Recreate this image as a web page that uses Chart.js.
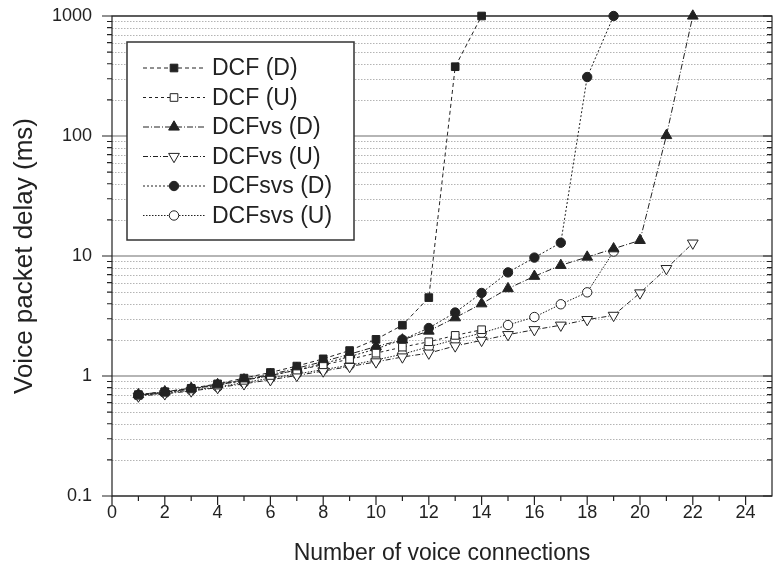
<!DOCTYPE html>
<html>
<head>
<meta charset="utf-8">
<script src="https://cdn.jsdelivr.net/npm/chart.js@4.4.1/dist/chart.umd.min.js"></script>
<style>
  html, body { margin: 0; padding: 0; background: #ffffff; }
  #wrap { width: 780px; height: 575px; }
</style>
</head>
<body>
<div id="wrap"><canvas id="chart" width="780" height="575"></canvas></div>
<script>
// Number of voice connections (x values)
const connections = [1, 2, 3, 4, 5, 6, 7, 8, 9, 10, 11, 12, 13, 14, 15, 16, 17, 18, 19, 20, 21, 22];

// Voice packet delay (ms) per scheme, downlink (D) and uplink (U)
const dcfDown    = [0.70, 0.74, 0.79, 0.86, 0.96, 1.07, 1.21, 1.39, 1.63, 2.02, 2.65, 4.5, 378, 1000];
const dcfUp      = [0.69, 0.73, 0.78, 0.84, 0.92, 1.01, 1.12, 1.24, 1.38, 1.55, 1.74, 1.93, 2.18, 2.43];
const dcfvsDown  = [0.70, 0.74, 0.79, 0.85, 0.93, 1.03, 1.16, 1.32, 1.52, 1.76, 2.0, 2.37, 3.06, 4.0, 5.35, 6.78, 8.36, 9.8, 11.5, 13.5, 101, 1000];
const dcfvsUp    = [0.68, 0.71, 0.75, 0.80, 0.86, 0.93, 1.01, 1.10, 1.20, 1.31, 1.44, 1.55, 1.78, 1.98, 2.21, 2.43, 2.65, 2.95, 3.2, 4.92, 7.85, 12.8];
const dcfsvsDown = [0.69, 0.73, 0.78, 0.84, 0.92, 1.01, 1.12, 1.27, 1.45, 1.68, 2.01, 2.51, 3.38, 4.92, 7.3, 9.7, 12.9, 310, 1000];
const dcfsvsUp   = [0.69, 0.72, 0.76, 0.81, 0.88, 0.96, 1.04, 1.13, 1.23, 1.36, 1.52, 1.75, 2.01, 2.28, 2.66, 3.1, 3.96, 4.98, 10.9];

const seriesNames = ['DCF (D)', 'DCF (U)', 'DCFvs (D)', 'DCFvs (U)', 'DCFsvs (D)', 'DCFsvs (U)'];

// Axis ticks
const xTickValues = [0, 2, 4, 6, 8, 10, 12, 14, 16, 18, 20, 22, 24];
const yTickValues = [0.1, 1, 10, 100, 1000];
const yTickLabels = ['0.1', '1', '10', '100', '1000'];

const FONT = "'Liberation Sans', Arial, sans-serif";
const INK = '#222222';

function points(values) {
  return values.map((v, i) => ({ x: connections[i], y: v }));
}

function series(label, values, style) {
  return Object.assign({
    label,
    data: points(values),
    borderColor: INK,
    borderWidth: 1,
    pointBorderColor: INK,
    pointBorderWidth: 1,
    pointHoverRadius: 5,
    fill: false,
    tension: 0,
    clip: false
  }, style);
}

const datasets = [
  series(seriesNames[0], dcfDown,    { borderDash: [4, 3],       pointStyle: 'rect',     pointRadius: 5.4, pointBackgroundColor: INK }),
  series(seriesNames[1], dcfUp,      { borderDash: [3, 3],       pointStyle: 'rect',     pointRadius: 5.4, pointBackgroundColor: '#ffffff' }),
  series(seriesNames[2], dcfvsDown,  { borderDash: [6, 2, 1, 2], pointStyle: 'triangle', pointRadius: 6.2, pointBackgroundColor: INK }),
  series(seriesNames[3], dcfvsUp,    { borderDash: [5, 2, 1, 2], pointStyle: 'triangle', pointRadius: 6.2, pointRotation: 180, pointBackgroundColor: '#ffffff' }),
  series(seriesNames[4], dcfsvsDown, { borderDash: [2, 2],       pointStyle: 'circle',   pointRadius: 4.7, pointBackgroundColor: INK }),
  series(seriesNames[5], dcfsvsUp,   { borderDash: [1.5, 1.5],   pointStyle: 'circle',   pointRadius: 4.7, pointBackgroundColor: '#ffffff' })
];

// Log grid, frame, tick marks and an inset legend
const decorations = {
  id: 'decorations',
  beforeDatasetsDraw(chart) {
    const { ctx, chartArea: a, scales: { y } } = chart;
    ctx.save();
    // minor (dotted) lines at 2..9 of each decade
    ctx.strokeStyle = '#b4b4b4';
    ctx.lineWidth = 1;
    ctx.setLineDash([1.5, 1.5]);
    for (let d = 0; d < yTickValues.length - 1; d++) {
      for (let m = 2; m <= 9; m++) {
        const py = Math.round(y.getPixelForValue(yTickValues[d] * m)) + 0.5;
        ctx.beginPath();
        ctx.moveTo(a.left, py);
        ctx.lineTo(a.right, py);
        ctx.stroke();
      }
    }
    // decade lines
    ctx.setLineDash([]);
    ctx.strokeStyle = '#9c9c9c';
    ctx.lineWidth = 1.6;
    yTickValues.forEach(v => {
      const py = y.getPixelForValue(v);
      ctx.beginPath();
      ctx.moveTo(a.left, py);
      ctx.lineTo(a.right, py);
      ctx.stroke();
    });
    ctx.restore();
  },
  afterDatasetsDraw(chart) {
    const { ctx, chartArea: a, scales: { x, y } } = chart;
    ctx.save();
    ctx.strokeStyle = INK;
    ctx.lineWidth = 1.2;
    ctx.setLineDash([]);
    ctx.strokeRect(a.left, a.top, a.right - a.left, a.bottom - a.top);
    ctx.beginPath();
    // y ticks: outward on the left, inward on the right
    for (let d = 0; d < yTickValues.length; d++) {
      const py = y.getPixelForValue(yTickValues[d]);
      ctx.moveTo(a.left - 10, py); ctx.lineTo(a.left, py);
      ctx.moveTo(a.right - 9, py); ctx.lineTo(a.right, py);
      if (d < yTickValues.length - 1) {
        for (let m = 2; m <= 9; m++) {
          const pm = y.getPixelForValue(yTickValues[d] * m);
          ctx.moveTo(a.left - 5, pm); ctx.lineTo(a.left, pm);
          ctx.moveTo(a.right - 5, pm); ctx.lineTo(a.right, pm);
        }
      }
    }
    // x ticks: every connection, longer at labelled values
    for (let n = 0; n < 25; n++) {
      const px = x.getPixelForValue(n);
      const len = n % 2 === 0 ? 9 : 5;
      ctx.moveTo(px, a.bottom); ctx.lineTo(px, a.bottom + len);
    }
    ctx.stroke();
    ctx.restore();
  },
  afterDraw(chart) {
    const { ctx } = chart;
    const box = { left: 127, top: 42, right: 354, bottom: 240 };
    ctx.save();
    ctx.fillStyle = '#ffffff';
    ctx.fillRect(box.left, box.top, box.right - box.left, box.bottom - box.top);
    ctx.strokeStyle = '#333333';
    ctx.lineWidth = 1.5;
    ctx.strokeRect(box.left, box.top, box.right - box.left, box.bottom - box.top);
    ctx.font = '23px ' + FONT;
    ctx.textBaseline = 'middle';
    ctx.fillStyle = INK;
    chart.data.datasets.forEach((ds, i) => {
      const cy = 68 + i * 29.5;
      ctx.save();
      ctx.strokeStyle = INK;
      ctx.lineWidth = 1;
      ctx.setLineDash(ds.borderDash || []);
      ctx.beginPath();
      ctx.moveTo(143, cy);
      ctx.lineTo(205, cy);
      ctx.stroke();
      ctx.restore();
      ctx.save();
      ctx.fillStyle = ds.pointBackgroundColor;
      ctx.strokeStyle = INK;
      ctx.lineWidth = 1;
      Chart.helpers.drawPoint(ctx, {
        pointStyle: ds.pointStyle,
        rotation: ds.pointRotation || 0,
        radius: ds.pointRadius,
        borderWidth: 1
      }, 174, cy);
      ctx.restore();
      ctx.fillText(ds.label, 212, cy + 1);
    });
    ctx.restore();
  }
};

new Chart(document.getElementById('chart'), {
  type: 'line',
  data: { datasets },
  plugins: [decorations],
  options: {
    responsive: false,
    animation: false,
    events: [],
    layout: { padding: { top: 16, right: 8, left: 0, bottom: 0 } },
    plugins: {
      legend: { display: false },
      tooltip: { enabled: false }
    },
    scales: {
      x: {
        type: 'linear',
        min: 0,
        max: 25,
        grid: { display: false, drawTicks: false },
        border: { display: false },
        afterBuildTicks: s => { s.ticks = xTickValues.map(v => ({ value: v })); },
        afterFit: s => { s.height = 79; s.paddingLeft = 0; s.paddingRight = 0; },
        ticks: {
          padding: 6,
          color: INK,
          font: { family: FONT, size: 18 },
          callback: v => String(v)
        },
        title: {
          display: true,
          text: 'Number of voice connections',
          color: INK,
          font: { family: FONT, size: 23 },
          padding: { top: 0, bottom: 8 }
        }
      },
      y: {
        type: 'logarithmic',
        min: 0.1,
        max: 1000,
        grid: { display: false, drawTicks: false },
        border: { display: false },
        afterBuildTicks: s => { s.ticks = yTickValues.map(v => ({ value: v })); },
        afterFit: s => { s.width = 112; s.paddingTop = 0; s.paddingBottom = 0; },
        ticks: {
          padding: 20,
          color: INK,
          font: { family: FONT, size: 18 },
          callback: (v) => {
            const i = yTickValues.indexOf(v);
            return i >= 0 ? yTickLabels[i] : '';
          }
        },
        title: {
          display: true,
          text: 'Voice packet delay (ms)',
          color: INK,
          font: { family: FONT, size: 26 },
          padding: { top: 9, bottom: 0 }
        }
      }
    }
  }
});
</script>
</body>
</html>
